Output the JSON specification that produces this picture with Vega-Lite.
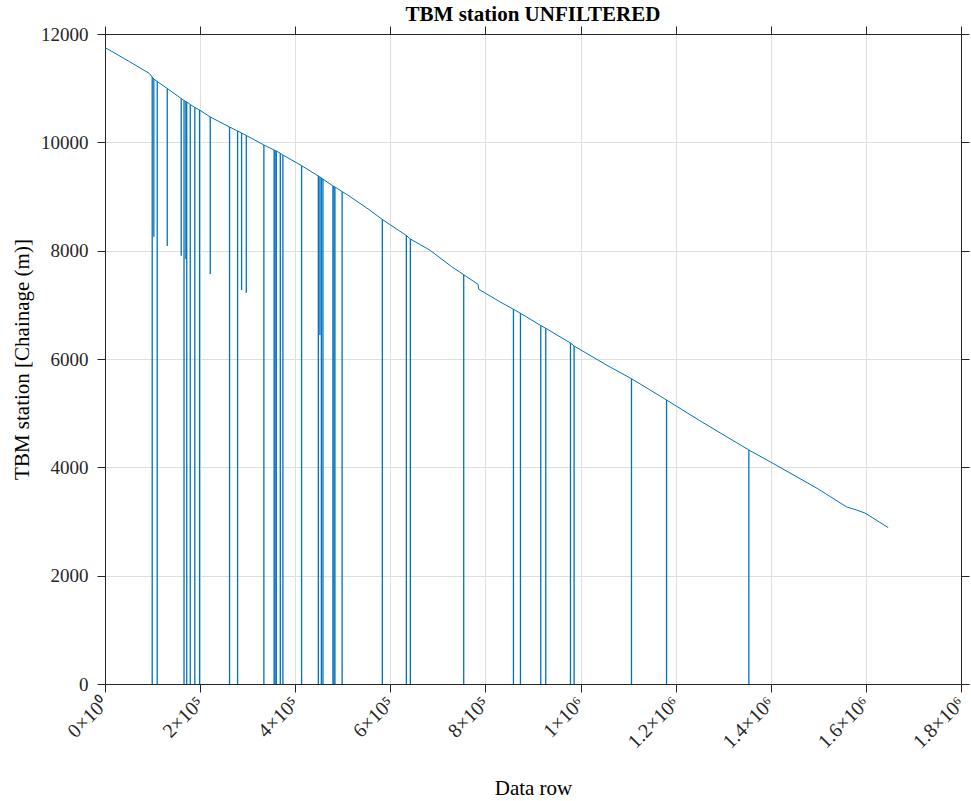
{
  "$schema": "https://vega.github.io/schema/vega-lite/v6.json",
  "width": 856,
  "height": 650,
  "autosize": "none",
  "padding": {"left": 105, "top": 34, "right": 10, "bottom": 117},
  "background": "white",
  "title": {"text": "TBM station UNFILTERED", "font": "Liberation Serif", "fontSize": 21, "fontWeight": "bold", "color": "#000000", "offset": 0, "anchor": "middle"},
  "config": {
    "view": {"stroke": null},
    "axis": {"labelFont": "Liberation Serif", "titleFont": "Liberation Serif", "labelColor": "#262626", "titleColor": "#000000", "domainColor": "#262626", "tickColor": "#262626", "tickSize": 8, "domainWidth": 1, "tickWidth": 1, "labelFontSize": 19, "titleFontSize": 21, "titleFontWeight": "normal"}
  },
  "data": {"values": [
    {"row": 0, "station": 11750},
    {"row": 51500, "station": 11490},
    {"row": 93600, "station": 11270},
    {"row": 99300, "station": 11206, "bottom": 0},
    {"row": 102700, "station": 11169, "bottom": 8258},
    {"row": 109800, "station": 11123, "bottom": 0},
    {"row": 130900, "station": 10994, "bottom": 8086},
    {"row": 160300, "station": 10809, "bottom": 7907},
    {"row": 166200, "station": 10772, "bottom": 0},
    {"row": 170000, "station": 10754, "bottom": 7846},
    {"row": 171900, "station": 10745, "bottom": 0},
    {"row": 179300, "station": 10698, "bottom": 0},
    {"row": 188900, "station": 10643, "bottom": 0},
    {"row": 198800, "station": 10597, "bottom": 0},
    {"row": 221300, "station": 10468, "bottom": 7569},
    {"row": 261900, "station": 10283, "bottom": 0},
    {"row": 278800, "station": 10209, "bottom": 0},
    {"row": 287200, "station": 10172, "bottom": 7274},
    {"row": 297100, "station": 10126, "bottom": 7224},
    {"row": 334100, "station": 9951, "bottom": 0},
    {"row": 355600, "station": 9858, "bottom": 0},
    {"row": 357700, "station": 9849, "bottom": 0},
    {"row": 360200, "station": 9840, "bottom": 0},
    {"row": 368600, "station": 9798, "bottom": 0},
    {"row": 374100, "station": 9766, "bottom": 0},
    {"row": 413400, "station": 9569, "bottom": 0},
    {"row": 448600, "station": 9378, "bottom": 0},
    {"row": 451900, "station": 9360, "bottom": 6443},
    {"row": 454900, "station": 9342, "bottom": 0},
    {"row": 458300, "station": 9323, "bottom": 0},
    {"row": 479300, "station": 9194, "bottom": 0},
    {"row": 481400, "station": 9185, "bottom": 0},
    {"row": 483500, "station": 9175, "bottom": 0},
    {"row": 498600, "station": 9092, "bottom": 0},
    {"row": 510200, "station": 9028},
    {"row": 556500, "station": 8751},
    {"row": 583200, "station": 8575, "bottom": 0},
    {"row": 619600, "station": 8363},
    {"row": 633700, "station": 8280, "bottom": 0},
    {"row": 642100, "station": 8215, "bottom": 0},
    {"row": 682700, "station": 8012},
    {"row": 729000, "station": 7704},
    {"row": 754300, "station": 7556, "bottom": 0},
    {"row": 784400, "station": 7379},
    {"row": 786000, "station": 7287},
    {"row": 830000, "station": 7058},
    {"row": 858900, "station": 6918, "bottom": 0},
    {"row": 873600, "station": 6844, "bottom": 0},
    {"row": 916300, "station": 6618, "bottom": 0},
    {"row": 926800, "station": 6567, "bottom": 0},
    {"row": 978800, "station": 6295, "bottom": 0},
    {"row": 986400, "station": 6240, "bottom": 0},
    {"row": 1054500, "station": 5889},
    {"row": 1107100, "station": 5636, "bottom": 0},
    {"row": 1180800, "station": 5243, "bottom": 0},
    {"row": 1250800, "station": 4861},
    {"row": 1353900, "station": 4320, "bottom": 0},
    {"row": 1399600, "station": 4098},
    {"row": 1496400, "station": 3618},
    {"row": 1559500, "station": 3268},
    {"row": 1580500, "station": 3212},
    {"row": 1598000, "station": 3157},
    {"row": 1647000, "station": 2886}
  ]},
  "layer": [
    {
      "mark": {"type": "line", "color": "#0072BD", "strokeWidth": 1, "clip": true},
      "encoding": {
        "x": {"field": "row", "type": "quantitative", "scale": {"domain": [0, 1800000], "nice": false, "zero": false},
          "axis": {"orient": "bottom", "title": "Data row", "values": [0, 200000, 400000, 600000, 800000, 1000000, 1200000, 1400000, 1600000, 1800000],
            "labelExpr": "datum.value == 0 ? '0×10⁰' : (datum.value < 1000000 ? (datum.value / 100000) + '×10⁵' : (datum.value / 1000000) + '×10⁶')",
            "labelAngle": -45, "labelAlign": "right", "labelBaseline": "middle", "labelPadding": 8, "labelFontSize": 20, "labelOverlap": false, "labelFlush": false, "labelBound": false,
            "grid": true, "gridColor": "#dfdfdf", "gridWidth": 1, "titlePadding": 26}},
        "y": {"field": "station", "type": "quantitative", "scale": {"domain": [0, 12000], "nice": false, "zero": false},
          "axis": {"orient": "left", "title": "TBM station [Chainage (m)]", "values": [0, 2000, 4000, 6000, 8000, 10000, 12000], "format": "d",
            "labelPadding": 9, "grid": true, "gridColor": "#dfdfdf", "gridWidth": 1, "titlePadding": 8, "labelFlush": false, "labelOverlap": false}}
      }
    },
    {
      "transform": [{"filter": "isValid(datum.bottom)"}],
      "mark": {"type": "rule", "color": "#0072BD", "strokeWidth": 1.3},
      "encoding": {
        "x": {"field": "row", "type": "quantitative", "scale": {"domain": [0, 1800000], "nice": false, "zero": false},
          "axis": {"orient": "top", "title": null, "labels": false, "grid": false, "values": [0, 200000, 400000, 600000, 800000, 1000000, 1200000, 1400000, 1600000, 1800000]}},
        "y": {"field": "bottom", "type": "quantitative", "scale": {"domain": [0, 12000], "nice": false, "zero": false},
          "axis": {"orient": "right", "title": null, "labels": false, "grid": false, "values": [0, 2000, 4000, 6000, 8000, 10000, 12000]}},
        "y2": {"field": "station"}
      }
    }
  ],
  "resolve": {"axis": {"x": "independent", "y": "independent"}}
}
